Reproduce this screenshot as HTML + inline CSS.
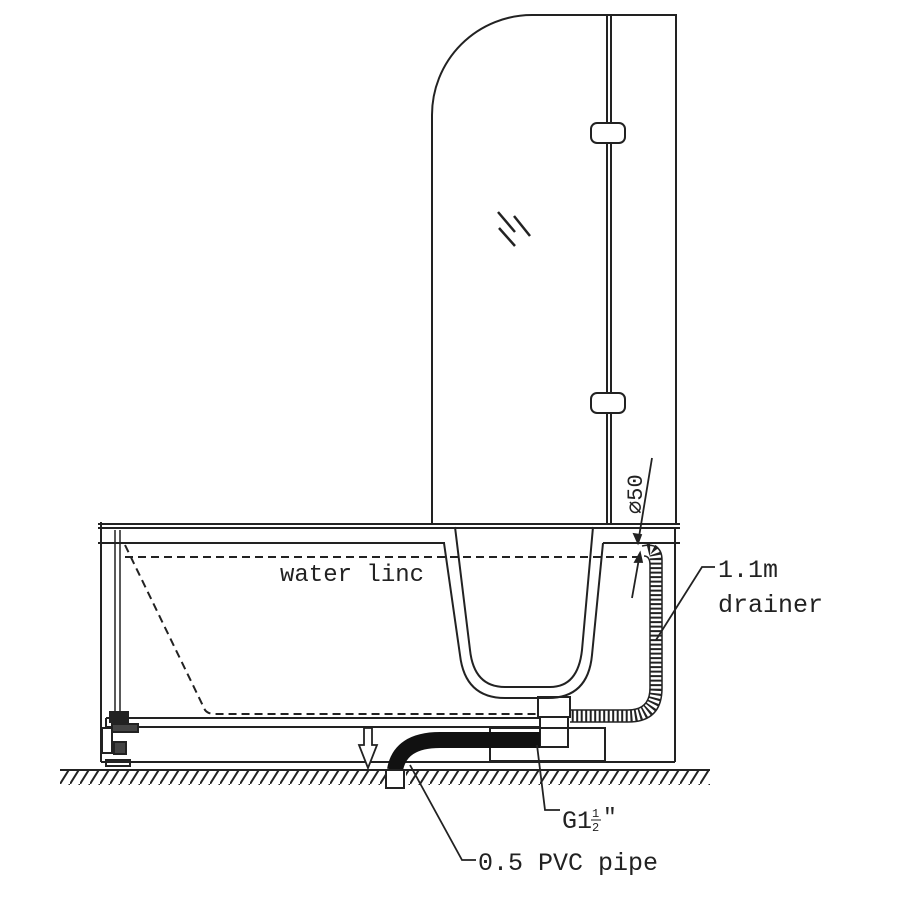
<!DOCTYPE html>
<html><head><meta charset="utf-8"><style>
html,body{margin:0;padding:0;background:#fff;}
svg{display:block}
text{font-family:"Liberation Mono","DejaVu Sans Mono",monospace;fill:#222;}
</style></head><body>
<svg width="900" height="900" viewBox="0 0 900 900" xmlns="http://www.w3.org/2000/svg">
<defs>
<pattern id="hatch" width="10" height="16" patternUnits="userSpaceOnUse">
<line x1="0" y1="16" x2="10" y2="0" stroke="#222" stroke-width="2"/>
</pattern>
</defs>
<g fill="none" stroke="#222" stroke-width="2">
<path d="M432,523 V115 A100,100 0 0 1 532,15 H676 V523"/>
<line x1="607" y1="15" x2="607" y2="523"/>
<line x1="611" y1="15" x2="611" y2="523"/>
<rect x="591" y="123" width="34" height="20" rx="6" fill="#fff"/>
<rect x="591" y="393" width="34" height="20" rx="6" fill="#fff"/>
<line x1="498" y1="212" x2="515" y2="232" stroke-width="2.5"/>
<line x1="514" y1="216" x2="530" y2="236" stroke-width="2.5"/>
<line x1="499" y1="228" x2="515" y2="246" stroke-width="2.5"/>
<line x1="98" y1="524" x2="680" y2="524"/>
<line x1="98" y1="528" x2="680" y2="528"/>
<line x1="98" y1="543" x2="445" y2="543"/>
<line x1="603" y1="543" x2="680" y2="543"/>
<line x1="101" y1="522" x2="101" y2="762"/>
<line x1="675" y1="528" x2="675" y2="762"/>
<line x1="101" y1="762" x2="675" y2="762"/>
<line x1="115" y1="530" x2="115" y2="720" stroke-width="1.5"/>
<line x1="120" y1="530" x2="120" y2="720" stroke-width="1.5"/>
<line x1="106" y1="718" x2="540" y2="718"/>
<line x1="106" y1="727" x2="540" y2="727"/>
<line x1="106" y1="718" x2="106" y2="727"/>
<line x1="125" y1="557" x2="640" y2="557" stroke-dasharray="8,5"/>
<path d="M125,545 L205,710 Q208,714 215,714 H540" stroke-dasharray="8,5"/>
<path d="M444,543 L460,655 Q465,698 505,698 H548 Q588,698 592,655 L603,543"/>
<path d="M455,527 L470,650 Q474,687 505,687 H550 Q578,687 582,650 L593,527"/>
<rect x="538" y="697" width="32" height="20"/>
<rect x="540" y="717" width="28" height="30"/>
<rect x="490" y="728" width="115" height="33"/>
<rect x="110" y="712" width="18" height="10" fill="#222"/>
<rect x="102" y="728" width="10" height="25"/>
<rect x="112" y="724" width="26" height="8" fill="#444"/>
<rect x="114" y="742" width="12" height="12" fill="#444"/>
<rect x="106" y="760" width="24" height="6"/>
<path d="M648,550 Q656,548 656,560 V688 Q656,716 628,716 H570" stroke="#222" stroke-width="12" stroke-dasharray="2,2.5"/>
<path d="M642,546 Q662,542 662,560 V688 Q662,722 628,722 H570" stroke-width="1.5"/>
<path d="M644,556 Q650,556 650,565 V688 Q650,710 628,710 H570" stroke-width="1.5"/>
<path d="M540,740 H440 Q400,740 395,770" stroke="#111" stroke-width="16"/>
<rect x="386" y="770" width="18" height="18" fill="#fff"/>
<line x1="60" y1="770" x2="710" y2="770"/>
</g>
<rect x="60" y="771" width="325" height="14" fill="url(#hatch)"/>
<rect x="406" y="771" width="304" height="14" fill="url(#hatch)"/>
<g fill="none" stroke="#222" stroke-width="1.8">
<path d="M364,728 H372 V745 H377 L368,768 L359,745 H364 Z" fill="#fff"/>
<polyline points="715,567 702,567 656,640"/>
<polyline points="537,745 545,810 560,810"/>
<polyline points="410,765 462,860 476,860"/>
<line x1="652" y1="458" x2="638" y2="543"/>
<line x1="632" y1="598" x2="640" y2="553"/>
<path d="M638,543 l-4,-9 l7,1 z" fill="#222"/>
<path d="M640,553 l-5,9 l7,0 z" fill="#222"/>
</g>
<text x="280" y="581" font-size="24">water linc</text>
<text x="718" y="577" font-size="25">1.1m</text>
<text x="718" y="612" font-size="25">drainer</text>
<text x="562" y="828" font-size="25">G1</text>
<text x="592" y="817" font-size="12">1</text>
<line x1="591" y1="820" x2="601" y2="820" stroke="#222" stroke-width="1"/>
<text x="592" y="831" font-size="12">2</text>
<text x="603" y="824" font-size="23">″</text>
<text x="478" y="870" font-size="25">0.5 PVC pipe</text>
<text transform="translate(642,514) rotate(-90)" font-size="22">⌀50</text>
</svg>
</body></html>
